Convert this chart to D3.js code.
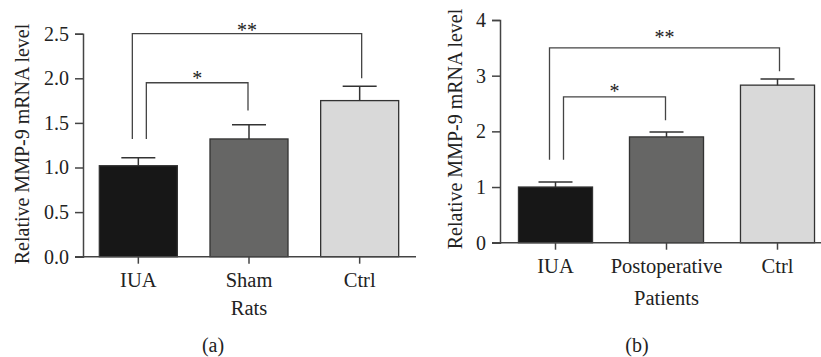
<!DOCTYPE html>
<html>
<head>
<meta charset="utf-8">
<script src="https://cdn.jsdelivr.net/npm/d3@7"></script>
<style>
  body { margin: 0; background: #fff; }
  svg { display: block; }
  text { font-family: 'Liberation Serif', 'Times New Roman', serif; fill: #222; }
</style>
</head>
<body>
<div id="chart"></div>
<script>
// data
const ratGroups = ['IUA', 'Sham', 'Ctrl'];
const ratMeans = [1.02, 1.32, 1.75];
const ratErrors = [0.09, 0.16, 0.16];
const ratTicks = [0, 0.5, 1.0, 1.5, 2.0, 2.5];

const patientGroups = ['IUA', 'Postoperative', 'Ctrl'];
const patientMeans = [1.0, 1.9, 2.83];
const patientErrors = [0.09, 0.09, 0.11];
const patientTicks = [0, 1, 2, 3, 4];

const barColors = ['#171717', '#666665', '#d9d9d9'];

// significance brackets: from, to, bracket level, leg ends, label
const ratSig = [
  { from: 'IUA', to: 'Sham', top: 1.95, lowA: 1.32, lowB: 1.64, label: '*', inner: true },
  { from: 'IUA', to: 'Ctrl', top: 2.5, lowA: 1.32, lowB: 2.0, label: '**', inner: false },
];
const patientSig = [
  { from: 'IUA', to: 'Postoperative', top: 2.62, lowA: 1.49, lowB: 2.2, label: '*', inner: true },
  { from: 'IUA', to: 'Ctrl', top: 3.5, lowA: 1.49, lowB: 3.08, label: '**', inner: false },
];

const width = 821;
const height = 357;
const axisColor = '#444';

const svg = d3
  .select('#chart')
  .append('svg')
  .attr('width', width)
  .attr('height', height);

function drawPanel(opts) {
  const x = d3
    .scaleBand()
    .domain(opts.groups)
    .range(opts.xRange)
    .paddingInner(opts.pad)
    .paddingOuter(opts.pad / 2);
  const y = d3.scaleLinear().domain(opts.yDomain).range(opts.yRange);
  const g = svg.append('g');
  const x0 = opts.xRange[0];

  // bars
  g.selectAll('.bar')
    .data(opts.groups)
    .enter()
    .append('rect')
    .attr('x', (d) => x(d))
    .attr('y', (d, i) => y(opts.means[i]))
    .attr('width', x.bandwidth())
    .attr('height', (d, i) => y(0) - y(opts.means[i]))
    .attr('fill', (d, i) => barColors[i])
    .attr('stroke', '#333')
    .attr('stroke-width', 1.3);

  // error bars (upper only)
  const cx = (d) => x(d) + x.bandwidth() / 2;
  g.selectAll('.err')
    .data(opts.groups)
    .enter()
    .append('path')
    .attr('d', (d, i) => {
      const top = y(opts.means[i] + opts.errors[i]);
      return `M${cx(d)},${y(opts.means[i])}V${top}M${cx(d) - 17},${top}H${cx(d) + 17}`;
    })
    .attr('fill', 'none')
    .attr('stroke', '#333')
    .attr('stroke-width', 1.5);

  // y axis
  const yAxis = g
    .append('g')
    .attr('transform', `translate(${x0},0)`)
    .call(
      d3.axisLeft(y)
        .tickValues(opts.ticks)
        .tickFormat(opts.fmt)
        .tickSizeOuter(0)
        .tickSize(8)
        .tickPadding(6),
    );
  yAxis.selectAll('path, line').attr('stroke', axisColor).attr('stroke-width', 1.5);
  yAxis.selectAll('text').attr('font-size', 20).attr('font-family', null).attr('fill', '#222');

  // x axis
  const xAxis = g
    .append('g')
    .attr('transform', `translate(0,${y(0)})`)
    .call(d3.axisBottom(x).tickSize(7).tickSizeOuter(0).tickPadding(9));
  xAxis.select('.domain').remove();
  xAxis
    .append('line')
    .attr('x1', x0 - 8)
    .attr('x2', opts.xEnd)
    .attr('stroke', axisColor)
    .attr('stroke-width', 1.5);
  xAxis.selectAll('line').attr('stroke', axisColor).attr('stroke-width', 1.5);
  xAxis.selectAll('text').attr('font-size', 20.5).attr('font-family', null).attr('fill', '#222');

  // significance brackets
  opts.sig.forEach((s) => {
    const xa = cx(s.from) + (s.inner ? 8 : -6);
    const xb = cx(s.to) + (s.inner ? -1 : 2);
    g.append('path')
      .attr('d', `M${xa},${y(s.lowA)}V${y(s.top)}H${xb}V${y(s.lowB)}`)
      .attr('fill', 'none')
      .attr('stroke', axisColor)
      .attr('stroke-width', 1.3);
    g.append('text')
      .attr('x', (xa + xb) / 2)
      .attr('y', y(s.top) - (s.inner ? opts.starGapIn : opts.starGap))
      .attr('text-anchor', 'middle')
      .attr('font-size', 20)
      .attr('fill', '#555')
      .text(s.label);
  });

  // axis titles
  g.append('text')
    .attr('transform', `translate(${opts.yTitle[0]},${opts.yTitle[1]}) rotate(-90)`)
    .attr('text-anchor', 'middle')
    .attr('dy', '0.35em')
    .attr('font-size', 20)
    .text('Relative MMP-9 mRNA level');

  g.append('text')
    .attr('x', cx(opts.groups[1]))
    .attr('y', y(0) + opts.xTitleGap)
    .attr('text-anchor', 'middle')
    .attr('font-size', 20.5)
    .text(opts.xTitle);

  g.append('text')
    .attr('x', opts.panelX)
    .attr('y', 352)
    .attr('text-anchor', 'middle')
    .attr('font-size', 20)
    .text(opts.panel);
}

drawPanel({
  groups: ratGroups,
  means: ratMeans,
  errors: ratErrors,
  ticks: ratTicks,
  fmt: d3.format('.1f'),
  sig: ratSig,
  xRange: [83, 415],
  xEnd: 416,
  pad: 0.295,
  yDomain: [0, 2.5],
  yRange: [256.7, 33.7],
  yTitle: [22, 144],
  xTitle: 'Rats',
  xTitleGap: 58,
  starGap: -3,
  starGapIn: -2,
  panel: '(a)',
  panelX: 213,
});

drawPanel({
  groups: patientGroups,
  means: patientMeans,
  errors: patientErrors,
  ticks: patientTicks,
  fmt: d3.format('d'),
  sig: patientSig,
  xRange: [500, 833],
  xEnd: 821,
  pad: 0.333,
  yDomain: [0, 4],
  yRange: [242.7, 20],
  yTitle: [455, 129],
  xTitle: 'Patients',
  xTitleGap: 62,
  starGap: 4,
  starGapIn: -1,
  panel: '(b)',
  panelX: 637,
});
</script>
</body>
</html>
